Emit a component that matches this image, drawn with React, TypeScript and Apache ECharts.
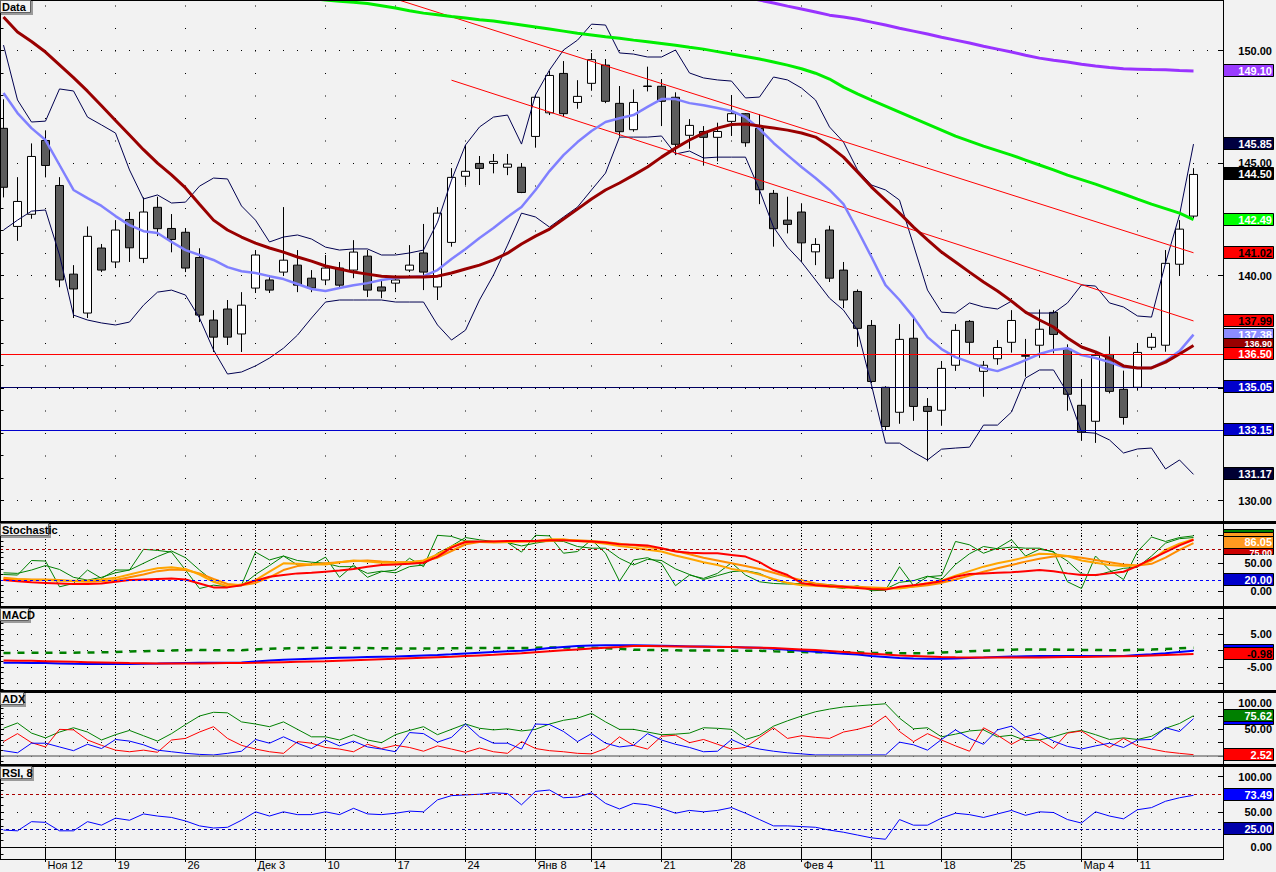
import React, { useEffect, useRef } from "react";
import * as echarts from "echarts";

const FONT = '"Liberation Sans", Arial, sans-serif';

// ---------- price data (index 0..85, one per trading day) ----------
const OPEN = [
  146.55, 142.19, 142.73, 146.01, 144.01, 140.07, 138.34, 141.23, 140.61, 142.5,
  140.77, 143.04, 142.1, 141.93, 140.81, 138.03, 138.52, 137.41, 139.45, 139.81,
  140.16, 140.47, 139.89, 139.81, 140.34, 140.25, 140.87, 139.5, 139.67, 140.25,
  141.01, 139.5, 141.48, 144.42, 144.99, 144.99, 144.82, 144.82, 146.19, 147.24,
  148.99, 147.7, 148.55, 149.36, 147.66, 146.49, 148.41, 148.42, 147.93, 146.24,
  146.41, 146.15, 146.86, 147.2, 146.55, 143.66, 142.47, 142.83, 141.06, 142.03,
  140.25, 139.3, 137.79, 135.04, 133.93, 137.22, 134.19, 134.02, 136.02, 137.97,
  135.75, 136.31, 137.04, 136.42, 136.91, 138.37, 136.73, 134.24, 133.53, 136.5,
  134.95, 135.04, 136.82, 136.91, 140.51, 142.65,
];
const CLOSE = [
  143.93, 143.3, 145.3, 144.9, 139.81, 139.41, 141.75, 140.25, 142.03, 141.24,
  142.83, 142.09, 141.61, 140.34, 138.25, 137.27, 137.27, 138.69, 140.92, 139.36,
  140.69, 139.58, 139.45, 140.34, 139.58, 141.05, 139.36, 139.32, 139.81, 140.47,
  140.16, 142.78, 144.37, 144.64, 144.77, 145.08, 144.96, 143.7, 147.93, 148.9,
  147.2, 147.97, 149.6, 147.75, 146.4, 147.7, 148.43, 147.75, 145.84, 146.68,
  146.15, 146.41, 147.2, 145.91, 143.82, 142.09, 142.28, 141.46, 141.39, 139.89,
  138.92, 137.66, 135.3, 133.3, 137.17, 134.19, 133.97, 135.88, 137.57, 137.04,
  136.02, 136.81, 138.01, 136.45, 137.62, 137.39, 134.73, 133.04, 136.46, 134.86,
  133.7, 136.59, 137.26, 140.55, 142.07, 144.5,
];
const HIGH = [
  147.84, 144.38, 145.88, 146.46, 144.38, 140.47, 142.19, 141.41, 142.47, 142.83,
  143.48, 143.51, 142.74, 142.12, 141.22, 138.47, 138.92, 139.27, 141.14, 140.03,
  143.05, 141.14, 140.25, 140.92, 140.61, 141.58, 141.14, 139.81, 140.03, 141.36,
  142.3, 143.05, 144.78, 145.81, 145.32, 145.41, 145.41, 144.99, 148.03, 149.1,
  149.54, 148.69, 149.9, 149.63, 148.43, 148.28, 149.29, 148.74, 148.15, 146.96,
  146.65, 146.8, 148.03, 147.23, 147.18, 143.81, 143.51, 143.22, 141.67, 142.22,
  140.61, 139.39, 138.03, 135.09, 137.85, 138.21, 134.56, 136.21, 137.85, 138.03,
  136.21, 137.14, 138.47, 137.19, 138.5, 138.47, 136.95, 135.41, 136.6, 137.3,
  135.78, 136.99, 137.45, 141.14, 142.47, 144.78,
];
const LOW = [
  143.48, 141.55, 142.53, 144.37, 139.49, 138.12, 138.12, 140.16, 140.34, 140.61,
  140.56, 141.76, 141.04, 140.16, 137.94, 136.61, 136.92, 136.61, 139.23, 139.23,
  140.03, 139.27, 139.27, 139.58, 139.45, 139.89, 139.05, 139.0, 139.27, 140.16,
  139.36, 138.92, 141.29, 144.03, 144.03, 144.55, 144.47, 143.67, 145.69, 147.14,
  147.05, 147.42, 148.22, 147.67, 146.18, 146.4, 148.19, 146.65, 145.36, 145.64,
  144.89, 145.08, 146.21, 145.73, 143.18, 141.29, 141.88, 140.61, 140.47, 139.72,
  138.56, 136.84, 135.23, 133.11, 133.42, 133.55, 131.75, 133.33, 135.77, 136.52,
  134.62, 136.04, 136.58, 135.51, 136.35, 136.55, 134.0, 132.66, 132.57, 134.77,
  133.38, 134.89, 136.7, 136.62, 140.0, 142.56,
];

// ---------- overlays ----------
const BB_UPPER = [
  150.25, 147.81, 146.83, 146.87, 148.3, 148.21, 147.05, 146.7, 146.34, 144.7,
  143.41, 143.59, 143.23, 143.27, 143.98, 144.34, 144.3, 143.1, 142.47, 141.5,
  141.72, 141.81, 141.63, 141.27, 141.14, 141.19, 141.19, 140.92, 140.92, 141.01,
  141.14, 142.38, 144.25, 145.81, 146.61, 147.05, 147.14, 145.85, 148.03, 149.14,
  150.03, 150.47, 151.18, 151.14, 149.9, 149.85, 149.72, 149.72, 150.03, 149.01,
  148.79, 148.7, 148.65, 147.9, 147.94, 148.83, 148.7, 148.34, 147.81, 146.61,
  145.94, 144.7, 144.03, 143.81, 143.36, 141.36, 139.36, 138.38, 138.34, 138.79,
  138.61, 138.52, 138.87, 138.34, 138.34, 138.34, 138.79, 139.59, 139.54, 138.79,
  138.61, 138.21, 138.16, 140.56, 142.7, 145.85,
];
const BB_LOWER = [
  142.03, 142.47, 142.87, 142.92, 140.92, 138.25, 138.03, 137.9, 137.81, 137.94,
  138.69, 139.27, 139.36, 139.14, 138.12, 136.7, 135.63, 135.72, 135.99, 136.34,
  136.78, 137.36, 138.12, 138.83, 138.92, 138.92, 138.92, 138.92, 138.83, 138.83,
  138.83, 137.81, 137.14, 137.58, 138.92, 140.03, 141.36, 142.78, 142.61, 142.16,
  142.61, 143.05, 143.81, 144.56, 146.16, 146.16, 146.16, 146.21, 145.41, 145.54,
  145.23, 145.27, 145.27, 145.27, 143.81, 142.16, 141.27, 140.61, 139.81, 139.0,
  138.47, 137.58, 135.14, 132.56, 132.56, 132.16, 131.81, 132.29, 132.34, 132.38,
  133.36, 133.36, 133.94, 135.45, 135.81, 135.81, 134.79, 133.05, 133.0, 132.7,
  132.12, 132.3, 132.34, 131.41, 131.81, 131.17,
];
const MA_FAST = [
  148.12, 147.23, 146.56, 146.03, 144.92, 143.81, 143.45, 143.1, 142.65, 142.25,
  141.98, 141.9, 141.5, 141.14, 140.92, 140.7, 140.38, 140.2, 140.12, 139.98,
  139.85, 139.63, 139.41, 139.32, 139.45, 139.58, 139.67, 139.81, 139.9, 139.94,
  139.98, 140.25, 140.74, 141.19, 141.68, 142.12, 142.61, 143.05, 143.81, 144.65,
  145.36, 145.94, 146.43, 146.83, 147.0, 147.14, 147.5, 147.85, 147.85, 147.67,
  147.58, 147.45, 147.32, 147.05, 146.52, 145.9, 145.36, 144.83, 144.34, 143.81,
  143.18, 142.03, 140.83, 139.58, 138.92, 138.16, 137.27, 136.74, 136.38, 136.16,
  135.9, 135.76, 135.99, 136.25, 136.52, 136.7, 136.78, 136.47, 136.34, 136.16,
  135.94, 135.9, 135.9, 136.21, 136.65, 137.38,
];
const MA_MID = [
  151.5, 150.83, 150.41, 149.94, 149.37, 148.8, 148.2, 147.55, 146.9, 146.25,
  145.6, 145.0, 144.48, 143.9, 143.18, 142.47, 142.03, 141.72, 141.45, 141.23,
  141.05, 140.83, 140.65, 140.43, 140.3, 140.16, 140.07, 139.98, 139.94, 139.94,
  139.94, 139.98, 140.12, 140.3, 140.47, 140.7, 141.0, 141.41, 141.76, 142.07,
  142.52, 142.96, 143.41, 143.81, 144.12, 144.47, 144.83, 145.27, 145.67, 146.03,
  146.34, 146.56, 146.72, 146.74, 146.65, 146.56, 146.47, 146.34, 146.16, 145.76,
  145.27, 144.61, 143.94, 143.36, 142.78, 142.16, 141.59, 141.05, 140.61, 140.16,
  139.72, 139.32, 138.87, 138.38, 138.03, 137.72, 137.23, 136.83, 136.61, 136.34,
  135.99, 135.9, 135.9, 136.16, 136.52, 136.9,
];
const MA_SLOW = [
  null, null, null, null, null, null, null, null, null, null,
  null, null, null, null, null, null, null, null, null, null,
  152.5, 152.4, 152.32, 152.25, 152.2, 152.15, 152.1, 152.0, 151.9, 151.78,
  151.67, 151.6, 151.52, 151.45, 151.38, 151.32, 151.23, 151.14, 151.05, 150.96,
  150.87, 150.78, 150.7, 150.62, 150.55, 150.47, 150.4, 150.32, 150.24, 150.15,
  150.07, 149.96, 149.85, 149.74, 149.63, 149.5, 149.36, 149.2, 149.0, 148.74,
  148.38, 148.08, 147.8, 147.54, 147.27, 147.0, 146.74, 146.47, 146.2, 145.98,
  145.76, 145.56, 145.36, 145.14, 144.92, 144.7, 144.47, 144.27, 144.07, 143.85,
  143.63, 143.4, 143.18, 142.98, 142.78, 142.49,
];
const MA_LONG = [
  null, null, null, null, null, null, null, null, null, null,
  null, null, null, null, null, null, null, null, null, null,
  null, null, null, null, null, null, null, null, null, null,
  null, null, null, null, null, null, null, null, null, null,
  null, null, null, null, null, null, null, null, null, null,
  152.8, 152.65, 152.52, 152.38, 152.25, 152.12, 151.98, 151.85, 151.72, 151.58,
  151.5, 151.4, 151.27, 151.14, 151.0, 150.87, 150.74, 150.6, 150.47, 150.34,
  150.2, 150.07, 149.94, 149.8, 149.67, 149.58, 149.5, 149.4, 149.32, 149.25,
  149.2, 149.18, 149.16, 149.15, 149.12, 149.1,
];
const TREND_UPPER = [[28, 152.3], [85, 141.02]];
const TREND_LOWER = [[32, 148.69], [85, 137.99]];
const LEVEL_RED = 136.5;
const LEVEL_NAVY = 135.05;
const LEVEL_BLUE = 133.15;

// ---------- stochastic ----------
const STOCH_FAST = [
  30, 29, 55, 54, 8, 14, 38, 23, 38, 38, 75, 73, 70, 38, 5, 11, 8, 11, 70, 56,
  63, 47, 47, 61, 25, 47, 25, 35, 38, 59, 44, 100, 98, 90, 89, 87, 87, 70, 100, 99,
  68, 71, 92, 68, 18, 56, 60, 50, 10, 29, 23, 32, 51, 29, 17, 14, 13, 13, 14, 8,
  5, 10, 1, 2, 44, 10, 26, 28, 89, 83, 68, 77, 92, 63, 75, 71, 17, 5, 63, 38,
  21, 71, 97, 89, 96, 99,
];
const STOCH_K = [
  33, 32, 38, 46, 39, 25, 20, 25, 33, 38, 50, 62, 72, 60, 38, 18, 8, 10, 30, 46,
  63, 55, 52, 50, 44, 44, 32, 36, 33, 44, 47, 68, 81, 96, 92, 89, 87, 81, 86, 90,
  89, 80, 77, 77, 59, 47, 57, 55, 40, 30, 21, 28, 35, 37, 32, 20, 15, 13, 13, 12,
  9, 8, 5, 4, 16, 19, 27, 21, 48, 67, 80, 76, 79, 77, 77, 70, 54, 31, 28, 35,
  41, 43, 63, 86, 94, 96,
];
const STOCH_D1 = [
  22, 21, 20, 20, 19, 19, 19, 21, 24, 30, 36, 41, 43, 40, 30, 17, 9, 12, 20, 35,
  50, 49, 48, 48, 52, 55, 53, 51, 51, 52, 55, 66, 80, 89, 88, 87, 88, 89, 90, 93,
  93, 90, 88, 85, 81, 78, 74, 71, 64, 58, 52, 47, 40, 36, 30, 22, 15, 11, 10, 8,
  7, 6, 5, 5, 5, 9, 15, 19, 28, 36, 44, 50, 55, 61, 67, 66, 63, 55, 51, 47,
  45, 46, 55, 74, 85, 93,
];
const STOCH_D2 = [
  24, 22, 21, 21, 20, 18, 17, 18, 20, 25, 30, 36, 39, 38, 32, 22, 13, 11, 15, 25,
  38, 45, 48, 50, 52, 54, 55, 53, 52, 52, 54, 60, 72, 84, 88, 89, 89, 89, 89, 90,
  91, 91, 90, 88, 85, 82, 79, 76, 72, 66, 60, 55, 50, 45, 40, 33, 26, 20, 14, 11,
  9, 8, 7, 6, 6, 8, 11, 15, 21, 28, 35, 41, 47, 53, 58, 62, 63, 60, 56, 52,
  48, 46, 49, 60, 74, 86.05,
];
const STOCH_SLOW_D = [
  20, 18, 16, 15, 14, 13, 13, 14, 17, 20, 21, 22, 23, 21, 14, 7, 7, 11, 19, 26,
  29, 32, 33, 35, 37, 40, 44, 47, 48, 49, 51, 62, 78, 88, 89, 89, 90, 90, 90, 91,
  91, 90, 89, 87, 84, 83, 82, 77, 71, 69, 68, 68, 65, 62, 52, 38, 29, 15, 11, 9,
  8, 6, 4, 3, 8, 11, 14, 18, 26, 31, 32, 33, 34, 36, 38, 36, 32, 29, 29, 32,
  35, 45, 58, 70, 82, 92,
];
const STOCH_HIGH = 75;
const STOCH_LOW = 20;

// ---------- MACD ----------
const MACD_LINE = [
  -3.7, -3.7, -3.75, -3.8, -3.9, -4.0, -4.05, -4.1, -4.1, -4.05,
  -4.0, -3.95, -3.85, -3.75, -3.7, -3.7, -3.65, -3.6, -3.3, -3.0,
  -2.8, -2.6, -2.45, -2.3, -2.15, -2.05, -1.95, -1.85, -1.75, -1.6,
  -1.45, -1.3, -1.1, -0.85, -0.6, -0.4, -0.2, 0.0, 0.4, 0.8,
  1.1, 1.4, 1.6, 1.65, 1.7, 1.7, 1.6, 1.5, 1.4, 1.3,
  1.25, 1.2, 1.1, 1.0, 0.9, 0.6, 0.3, 0.0, -0.3, -0.6,
  -0.9, -1.2, -1.6, -1.9, -2.2, -2.4, -2.5, -2.45, -2.4, -2.2,
  -2.1, -1.9, -1.8, -1.7, -1.65, -1.65, -1.65, -1.65, -1.65, -1.65,
  -1.6, -1.3, -1.1, -0.8, -0.4, -0.05,
];
const MACD_SIGNAL = [
  -3.0, -3.05, -3.1, -3.2, -3.3, -3.4, -3.5, -3.6, -3.7, -3.8,
  -3.85, -3.9, -3.9, -3.9, -3.9, -3.85, -3.8, -3.75, -3.7, -3.6,
  -3.5, -3.4, -3.3, -3.2, -3.05, -2.9, -2.75, -2.6, -2.45, -2.3,
  -2.15, -2.0, -1.85, -1.65, -1.45, -1.25, -1.0, -0.8, -0.5, -0.2,
  0.1, 0.4, 0.7, 0.9, 1.1, 1.4, 1.4, 1.35, 1.3, 1.25,
  1.2, 1.15, 1.1, 1.0, 0.9, 0.8, 0.6, 0.4, 0.2, -0.1,
  -0.4, -0.7, -0.9, -1.2, -1.45, -1.6, -1.75, -1.9, -2.0, -2.05,
  -2.1, -2.1, -2.1, -2.1, -2.05, -2.0, -1.95, -1.9, -1.85, -1.8,
  -1.7, -1.6, -1.45, -1.3, -1.15, -0.98,
];
const MACD_HIST = [
  -0.7, -0.65, -0.65, -0.6, -0.6, -0.6, -0.55, -0.5, -0.4, -0.25,
  -0.15, -0.05, 0.05, 0.15, 0.2, 0.15, 0.15, 0.15, 0.4, 0.6,
  0.7, 0.8, 0.85, 0.9, 0.9, 0.85, 0.8, 0.75, 0.7, 0.7,
  0.7, 0.7, 0.75, 0.8, 0.85, 0.85, 0.8, 0.8, 0.9, 1.0,
  1.0, 1.0, 0.9, 0.75, 0.6, 0.3, 0.2, 0.15, 0.1, 0.05,
  0.05, 0.05, 0.0, 0.0, 0.0, -0.2, -0.3, -0.4, -0.5, -0.5,
  -0.5, -0.5, -0.7, -0.7, -0.75, -0.8, -0.75, -0.55, -0.4, -0.15,
  0.0, 0.2, 0.3, 0.4, 0.4, 0.35, 0.3, 0.25, 0.2, 0.15,
  0.1, 0.3, 0.35, 0.5, 0.75, 0.93,
];

// ---------- ADX ----------
const ADX_LINE = [
  52, 62, 43, 34, 45, 53, 45, 30, 40, 48, 38, 28, 42, 59, 75, 82, 81, 64, 60, 55,
  64, 50, 36, 36, 30, 40, 30, 25, 40, 48, 55, 40, 50, 60, 52, 49, 51, 47, 50, 60,
  67, 71, 80, 64, 50, 50, 45, 40, 41, 43, 53, 52, 50, 31, 39, 56, 66, 75, 83, 88,
  92, 94, 96, 98, 71, 51, 53, 36, 41, 47, 49, 36, 39, 29, 30, 36, 44, 48, 40, 31,
  34, 31, 37, 52, 61, 75.62,
];
const DI_MINUS = [
  27, 42, 25, 17, 50, 49, 30, 20, 11, 8, 11, 7, 30, 33, 45, 55, 33, 20, 13, 8,
  5, 27, 24, 16, 13, 8, 22, 14, 20, 16, 9, 19, 13, 7, 15, 8, 5, 27, 14, 10,
  8, 5, 4, 14, 36, 20, 13, 37, 39, 25, 31, 22, 13, 16, 35, 53, 33, 38, 35, 33,
  45, 50, 57, 75, 46, 27, 42, 30, 19, 9, 53, 39, 22, 36, 30, 14, 43, 47, 30, 16,
  33, 19, 13, 8, 5, 2.52,
];
const DI_PLUS = [
  10, 6, 24, 24, 17, 10, 22, 14, 31, 28, 21, 11, 8, 5, 3, 2, 5, 9, 31, 24,
  36, 24, 14, 30, 19, 28, 17, 13, 8, 44, 42, 26, 35, 60, 36, 24, 24, 13, 60, 59,
  46, 27, 42, 24, 17, 20, 42, 30, 22, 16, 8, 9, 31, 19, 13, 9, 6, 4, 2, 2,
  2, 2, 2, 2, 26, 21, 11, 31, 49, 33, 22, 49, 56, 36, 43, 28, 18, 13, 19, 24,
  16, 30, 31, 53, 46, 70,
];

// ---------- RSI, 8 ----------
const RSI8 = [
  24, 23, 36, 35, 23, 23, 36, 31, 41, 38, 47, 44, 42, 37, 30, 27, 28, 38, 50, 44,
  50, 46, 46, 50, 46, 55, 47, 46, 48, 51, 50, 67, 73, 74, 75, 77, 76, 60, 79, 81,
  70, 71, 77, 62, 54, 62, 60, 55, 48, 52, 50, 52, 56, 48, 39, 30, 30, 29, 28, 24,
  21, 17, 13, 11, 39, 31, 31, 41, 48, 46, 42, 47, 52, 45, 50, 49, 39, 34, 50, 44,
  40, 53, 56, 65, 70, 73.49,
];
const RSI_HIGH = 75;
const RSI_LOW = 25;

// ---------- time axis ----------
const TICK_POS = [3, 8, 13, 18, 23, 28, 33, 38, 42, 47, 52, 57, 62, 67, 72, 77, 81];
const TICK_LABELS = ["Ноя 12", "19", "26", "Дек 3", "10", "17", "24", "Янв 8", "14", "21", "28", "Фев 4", "11", "18", "25", "Мар 4", "11"];

// ---------- layout ----------
const X_MIN = -0.25;
const X_MAX = 87.107;
const PANELS = [
  { top: 1, height: 520, min: 129.098, max: 152.209, labels: [130, 140, 145, 150], majors: [130, 135, 140, 145, 150],
    minors: [130, 131, 132, 133, 134, 135, 136, 137, 138, 139, 140, 141, 142, 143, 144, 145, 146, 147, 148, 149, 150, 151, 152] },
  { top: 524, height: 82, min: -26.25, max: 120.18, labels: [0, 50], majors: [0, 50, 100],
    minors: [-20, -10, 0, 10, 20, 30, 40, 50, 60, 70, 80, 90, 100, 110] },
  { top: 609, height: 81, min: -12.02, max: 12.75, labels: [-5, 5], majors: [-10, -5, 0, 5, 10],
    minors: [-11.67, -10, -8.33, -6.67, -5, -3.33, -1.67, 0, 1.67, 3.33, 5, 6.67, 8.33, 10, 11.67] },
  { top: 693, height: 71, min: -15, max: 118.2, labels: [50, 100], majors: [0, 25, 50, 75, 100],
    minors: [-10, 0, 10, 20, 30, 40, 50, 60, 70, 80, 90, 100, 110] },
  { top: 767, height: 89, min: -12.8, max: 113.7, labels: [0, 50, 100], majors: [0, 50, 100],
    minors: [-10, 0, 10, 20, 30, 40, 50, 60, 70, 80, 90, 100, 110] },
];
const TITLES = ["Data", "Stochastic", "MACD", "ADX", "RSI, 8"];

const pts = (arr: any[]) => arr.map((v, i) => (v == null ? null : [i, v])).filter((p) => p !== null);

function lineSeries(data: any[], panel: number, color: string, width: number, extra: any = {}) {
  return {
    type: "line",
    data: pts(data),
    xAxisIndex: panel,
    yAxisIndex: panel * 2,
    symbol: "none",
    showSymbol: false,
    silent: true,
    z: 3,
    lineStyle: { color, width },
    ...extra,
  };
}

function hLine(value: number, color: string, type: any = "solid", width = 1) {
  return { yAxis: value, lineStyle: { color, type, width } };
}

function markLines(lines: any[]) {
  return { silent: true, symbol: ["none", "none"], label: { show: false }, data: lines, animation: false };
}

export default function App() {
  const ref = useRef<HTMLDivElement>(null);

  useEffect(() => {
    const el = ref.current;
    if (!el) return;
    const chart = echarts.init(el, null, { renderer: "svg" });

    const grids = PANELS.map((p) => ({ left: 0, top: p.top, width: 1223, height: p.height, outerBoundsMode: "none", containLabel: false }));

    const xAxes = PANELS.map((p, i) => ({
      type: "value",
      gridIndex: i,
      min: X_MIN,
      max: X_MAX,
      axisLine: { show: i === 4, lineStyle: { color: "#000", width: 1 } },
      axisTick: { show: i === 4, customValues: TICK_POS, length: 15, lineStyle: { color: "#000" } },
      axisLabel: {
        show: i === 4,
        customValues: TICK_POS,
        formatter: (v: number) => TICK_LABELS[TICK_POS.indexOf(Math.round(v))] || "",
        align: "left",
        margin: 3,
        padding: [0, 0, 0, 2],
        color: "#000",
        fontFamily: FONT,
        fontSize: 11,
      },
      splitLine: {
        show: true,
        lineStyle: i === 0 ? { color: "#000", width: 1, type: [1, 21.5], dashOffset: 17.8 } : { color: "#000", width: 1, type: [1, 2] },
      },
    }));

    const yAxes: any[] = [];
    PANELS.forEach((p, i) => {
      yAxes.push({
        type: "value",
        gridIndex: i,
        position: "right",
        min: p.min,
        max: p.max,
        axisLine: { show: true, onZero: false, lineStyle: { color: "#000", width: 1 } },
        axisTick: { show: true, inside: true, length: 5, customValues: p.majors, lineStyle: { color: "#000" } },
        axisLabel: {
          show: true,
          customValues: p.labels,
          formatter: (v: number) => v.toFixed(2),
          align: "right",
          margin: 49,
          color: "#000",
          fontFamily: FONT,
          fontWeight: "bold",
          fontSize: 11,
        },
        splitLine: { show: true, lineStyle: { color: "#000", width: 1, type: [1, 13], dashOffset: 11 } },
      });
      yAxes.push({
        type: "value",
        gridIndex: i,
        position: "right",
        min: p.min,
        max: p.max,
        axisLine: { show: false },
        axisTick: { show: true, inside: true, length: 3, customValues: p.minors, lineStyle: { color: "#000" } },
        axisLabel: { show: false },
        splitLine: { show: false },
      });
    });

    const candles = OPEN.map((o, i) => [i, o, CLOSE[i], LOW[i], HIGH[i]]);

    const series: any[] = [
      {
        type: "candlestick",
        xAxisIndex: 0,
        yAxisIndex: 0,
        data: candles,
        encode: { x: 0, y: [1, 2, 3, 4] },
        barWidth: 8,
        silent: true,
        z: 2,
        itemStyle: { color: "#ffffff", color0: "#5c5c5c", borderColor: "#000000", borderColor0: "#000000", borderWidth: 1 },
        markLine: markLines([hLine(LEVEL_RED, "#ff0000"), hLine(LEVEL_NAVY, "#000060"), hLine(LEVEL_BLUE, "#0000cc")]),
      },
      lineSeries(BB_UPPER, 0, "#000050", 1),
      lineSeries(BB_LOWER, 0, "#000050", 1),
      lineSeries([], 0, "#ff0000", 1, { data: TREND_UPPER }),
      lineSeries([], 0, "#ff0000", 1, { data: TREND_LOWER }),
      lineSeries(MA_FAST, 0, "#8080ff", 2.5),
      lineSeries(MA_MID, 0, "#990000", 3),
      lineSeries(MA_SLOW, 0, "#00ee00", 3),
      lineSeries(MA_LONG, 0, "#9933ff", 3),

      lineSeries(STOCH_FAST, 1, "#008000", 1, {
        markLine: markLines([hLine(STOCH_HIGH, "#aa0000", [3, 3]), hLine(STOCH_LOW, "#0000ff", [3, 3])]),
      }),
      lineSeries(STOCH_K, 1, "#008000", 1),
      lineSeries(STOCH_D2, 1, "#ff8c00", 2),
      lineSeries(STOCH_D1, 1, "#ffa500", 2),
      lineSeries(STOCH_SLOW_D, 1, "#ff0000", 2),

      lineSeries(MACD_HIST, 2, "#008000", 2.5, { lineStyle: { color: "#008000", width: 2.5, type: [7, 7] } }),
      lineSeries(MACD_LINE, 2, "#0000ff", 2),
      lineSeries(MACD_SIGNAL, 2, "#ff0000", 2),

      lineSeries(ADX_LINE, 3, "#008000", 1, { markLine: markLines([hLine(0, "#808080", "solid", 1.5)]) }),
      lineSeries(DI_MINUS, 3, "#ff0000", 1),
      lineSeries(DI_PLUS, 3, "#0000ff", 1),

      lineSeries(RSI8, 4, "#0000ff", 1, {
        markLine: markLines([hLine(RSI_HIGH, "#aa0000", [3, 3]), hLine(RSI_LOW, "#0000aa", [3, 3])]),
      }),
    ];

    chart.setOption({
      animation: false,
      backgroundColor: "#f2f2f2",
      grid: grids,
      xAxis: xAxes,
      yAxis: yAxes,
      series,
    });

    // value tags on the right scale (text: false = box mostly covered; fs/dy for half-hidden tags)
    const TAGS = [
      { axis: 0, v: MA_LONG[85], bg: "#9a3cff", fg: "#fff", text: true },
      { axis: 0, v: BB_UPPER[85], bg: "#000040", fg: "#fff", text: true },
      { axis: 0, v: CLOSE[85], bg: "#000000", fg: "#fff", text: true },
      { axis: 0, v: MA_SLOW[85], bg: "#00ff00", fg: "#fff", text: true },
      { axis: 0, v: TREND_UPPER[1][1], bg: "#ff0000", fg: "#000", text: true },
      { axis: 0, v: TREND_LOWER[1][1], bg: "#ff0000", fg: "#000", text: true },
      { axis: 0, v: MA_FAST[85], bg: "#8c8cff", fg: "#fff", text: true },
      { axis: 0, v: MA_MID[85], bg: "#990000", fg: "#fff", text: true, fs: 9, dy: -1 },
      { axis: 0, v: LEVEL_RED, bg: "#ff0000", fg: "#fff", text: true },
      { axis: 0, v: LEVEL_NAVY, bg: "#0000cc", fg: "#fff", text: true },
      { axis: 0, v: LEVEL_BLUE, bg: "#0000cc", fg: "#fff", text: true },
      { axis: 0, v: BB_LOWER[85], bg: "#000033", fg: "#fff", text: true },
      { axis: 2, v: STOCH_FAST[85], bg: "#008000", fg: "#fff", text: false },
      { axis: 2, v: STOCH_D1[85], bg: "#ff9a20", fg: "#fff", text: false },
      { axis: 2, v: STOCH_HIGH, bg: "#cc0000", fg: "#fff", text: true, fs: 9, dy: 4 },
      { axis: 2, v: STOCH_D2[85], bg: "#ff9a20", fg: "#fff", text: true, dy: -1 },
      { axis: 2, v: STOCH_LOW, bg: "#0000cc", fg: "#fff", text: true },
      { axis: 4, v: MACD_LINE[85], bg: "#0000ff", fg: "#fff", text: false },
      { axis: 4, v: MACD_SIGNAL[85], bg: "#ff0000", fg: "#000", text: true },
      { axis: 6, v: DI_PLUS[85], bg: "#0000ff", fg: "#fff", text: false },
      { axis: 6, v: ADX_LINE[85], bg: "#008000", fg: "#fff", text: true },
      { axis: 6, v: DI_MINUS[85], bg: "#ff0000", fg: "#fff", text: true },
      { axis: 8, v: RSI_LOW, bg: "#0000aa", fg: "#fff", text: true },
      { axis: 8, v: RSI8[85], bg: "#0000ff", fg: "#fff", text: true },
    ];

    const g: any[] = [];
    // panel separators and frame
    [521, 606, 690, 764].forEach((y) => g.push({ type: "rect", z: 50, shape: { x: 0, y, width: 1276, height: 3 }, style: { fill: "#000" } }));
    g.push({ type: "line", z: 50, shape: { x1: 0, y1: 0.5, x2: 1223, y2: 0.5 }, style: { stroke: "#000", lineWidth: 1 } });
    g.push({ type: "line", z: 50, shape: { x1: 0.5, y1: 0, x2: 0.5, y2: 860 }, style: { stroke: "#000", lineWidth: 1 } });
    g.push({ type: "line", z: 50, shape: { x1: 0, y1: 859.5, x2: 1224, y2: 859.5 }, style: { stroke: "#000", lineWidth: 1 } });
    g.push({ type: "line", z: 50, shape: { x1: 1223.5, y1: 0, x2: 1223.5, y2: 860 }, style: { stroke: "#000", lineWidth: 1 } });

    TAGS.forEach((t: any, k) => {
      const y = Math.round(chart.convertToPixel({ yAxisIndex: t.axis } as any, t.v) as number);
      const z = 100 + k;
      g.push({ type: "rect", z, shape: { x: 1223.5, y: y - 6.5, width: 50, height: 12 }, style: { fill: t.bg, stroke: "#000", lineWidth: 1 } });
      if (t.text) {
        g.push({
          type: "text",
          z,
          x: 1272,
          y: y + (t.dy || 0),
          style: {
            text: t.v.toFixed(2),
            fill: t.fg,
            font: `bold ${t.fs || 11}px ${FONT}`,
            textAlign: "right",
            textVerticalAlign: "middle",
            align: "right",
            verticalAlign: "middle",
          },
        });
      }
    });

    // panel titles
    const titleTops = [1, 524, 609, 693, 767];
    const titleWidths = [30, 48, 28, 23, 31];
    TITLES.forEach((t, i) => {
      const y = titleTops[i];
      const w = titleWidths[i];
      g.push({ type: "rect", z: 200, shape: { x: 1, y: y, width: w + 2, height: 14 }, style: { fill: "#9a9a9a" } });
      g.push({ type: "rect", z: 201, shape: { x: 0.5, y: y - 0.5, width: w, height: 12 }, style: { fill: "#f4f4f4", stroke: "#606060", lineWidth: 1 } });
      g.push({ type: "text", z: 202, x: 2, y: y + 5.5, style: { text: t, fill: "#000", font: `bold 11px ${FONT}`, textVerticalAlign: "middle", verticalAlign: "middle" } });
    });

    chart.setOption({ graphic: g });

    return () => chart.dispose();
  }, []);

  return <div ref={ref} style={{ position: "absolute", left: 0, top: 0, width: 1276, height: 872, background: "#f2f2f2" }} />;
}
